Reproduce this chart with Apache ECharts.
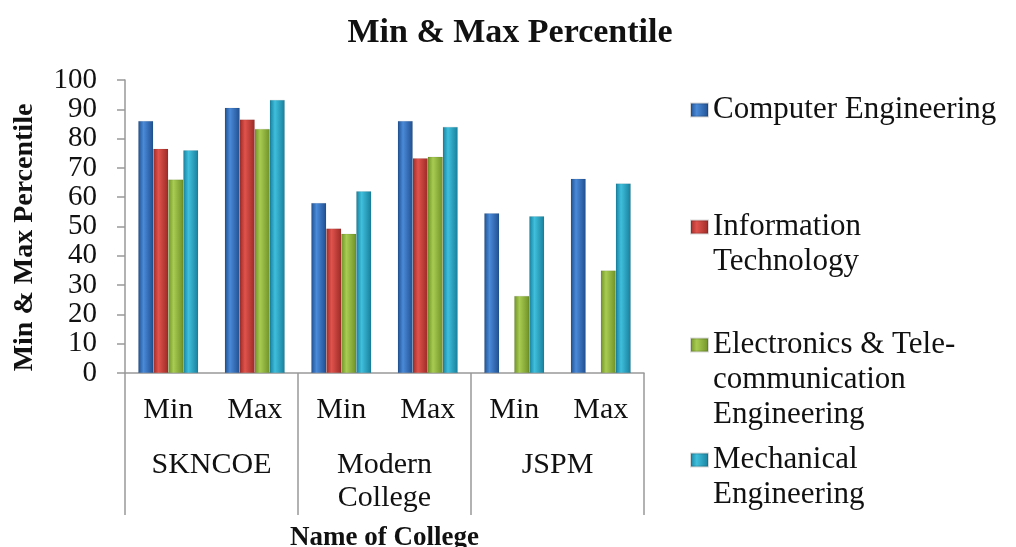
<!DOCTYPE html>
<html>
<head>
<meta charset="utf-8">
<script src="https://cdn.jsdelivr.net/npm/echarts@6/dist/echarts.min.js"></script>
<style>
  html, body { margin: 0; padding: 0; background: #fff; }
  #chart { width: 1016px; height: 547px; }
</style>
</head>
<body>
<div id="chart"></div>
<script>
const subCategories = ['Min', 'Max', 'Min', 'Max', 'Min', 'Max'];
const colleges = ['SKNCOE', 'Modern\nCollege', 'JSPM'];
const yTicks = { min: 0, max: 100, step: 10 };

const computerEng = [86, 90.5, 58, 86, 54.5, 66.3];
const infoTech = [76.5, 86.5, 49.3, 73.3, null, null];
const electronics = [66, 83.3, 47.5, 73.8, 26.3, 35];
const mechanical = [76, 93.2, 62, 84, 53.5, 64.7];

const seriesNames = [
  'Computer Engineering',
  'Information Technology',
  'Electronics & Tele-communication Engineering',
  'Mechanical Engineering'
];
const legendLabels = [
  'Computer Engineering',
  'Information\nTechnology',
  'Electronics & Tele-\ncommunication\nEngineering',
  'Mechanical\nEngineering'
];

const FONT = '"Liberation Serif", "Times New Roman", serif';
const LINE = 35;

// dark / light pairs for the cylinder look
const palette = [
  ['#1f4f8f', '#4a8ad8'],
  ['#9c2a26', '#e0534c'],
  ['#6f9127', '#a8cc52'],
  ['#177f9c', '#3fbfdc']
];

function grad(c) {
  return new echarts.graphic.LinearGradient(0, 0, 1, 0, [
    { offset: 0, color: c[0] },
    { offset: 0.35, color: c[1] },
    { offset: 1, color: c[0] }
  ]);
}

const values = [computerEng, infoTech, electronics, mechanical];
const legendCenters = [110, 227, 345, 460];

const chart = echarts.init(document.getElementById('chart'));

chart.setOption({
  animation: false,
  title: {
    text: 'Min & Max Percentile',
    left: 505,
    textAlign: 'center',
    top: 11,
    textStyle: { fontFamily: FONT, fontSize: 34, fontWeight: 'bold', color: '#111' }
  },
  legend: legendLabels.map((lab, i) => {
    const n = lab.split('\n').length;
    // pad with blank lines above so the icon sits on the first line
    const text = ' \n'.repeat(n - 1) + lab;
    return {
      data: [seriesNames[i]],
      left: 690,
      top: legendCenters[i] - (2 * n - 1) * LINE / 2,
      padding: 0,
      icon: 'rect',
      itemWidth: 17,
      itemHeight: 13,
      selectedMode: false,
      formatter: () => text,
      textStyle: {
        fontFamily: FONT,
        fontSize: 31,
        color: '#111',
        lineHeight: LINE
      }
    };
  }),
  grid: { left: 125, right: 372, top: 80, bottom: 174, outerBoundsMode: 'none' },
  xAxis: [
    {
      type: 'category',
      data: subCategories,
      position: 'bottom',
      axisLine: { lineStyle: { color: '#999', width: 1.5 } },
      axisTick: { show: false },
      axisLabel: {
        fontFamily: FONT, fontSize: 30, color: '#111',
        margin: 22, interval: 0
      }
    },
    {
      type: 'category',
      data: colleges,
      position: 'bottom',
      axisLine: { show: false },
      axisTick: { show: true, length: 142, lineStyle: { color: '#999', width: 1.5 } },
      axisLabel: {
        fontFamily: FONT, fontSize: 30, color: '#111',
        margin: 76, lineHeight: 33, verticalAlign: 'top', interval: 0
      },
      name: 'Name of College',
      nameLocation: 'middle',
      nameGap: 152,
      nameTextStyle: { fontFamily: FONT, fontSize: 27, fontWeight: 'bold', color: '#111' }
    }
  ],
  yAxis: {
    type: 'value',
    min: yTicks.min,
    max: yTicks.max,
    interval: yTicks.step,
    splitLine: { show: false },
    axisLine: { show: true, lineStyle: { color: '#999', width: 1.5 } },
    axisTick: { show: true, length: 8, lineStyle: { color: '#999', width: 1.5 } },
    axisLabel: {
      fontFamily: FONT, fontSize: 29, color: '#111', margin: 28,
      showMinLabel: true, showMaxLabel: true, hideOverlap: false
    },
    name: 'Min & Max Percentile',
    nameLocation: 'middle',
    nameRotate: 90,
    nameGap: 86,
    nameTextStyle: {
      fontFamily: FONT, fontSize: 28, fontWeight: 'bold', color: '#111',
      padding: [0, 22, 0, 0]
    }
  },
  series: values.map((d, i) => ({
    name: seriesNames[i],
    type: 'bar',
    xAxisIndex: 0,
    data: d,
    barWidth: 15,
    barGap: '0%',
    itemStyle: { color: grad(palette[i]), borderColor: 'rgba(0,0,0,0.15)', borderWidth: 0.5 }
  }))
});
</script>
</body>
</html>
